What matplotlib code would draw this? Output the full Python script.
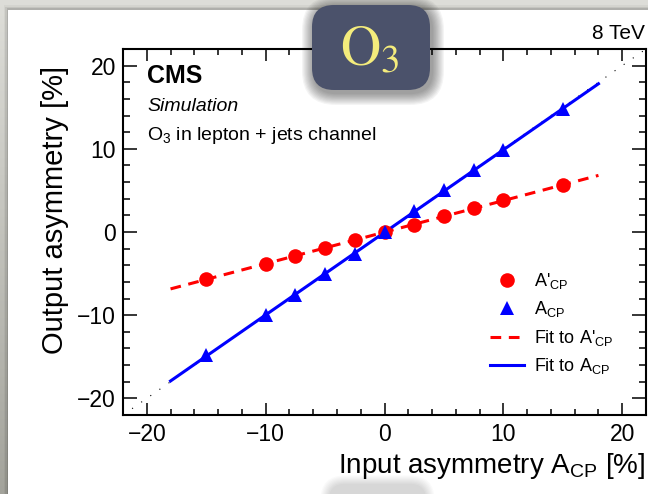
import matplotlib
matplotlib.use("Agg")
import matplotlib.pyplot as plt
import numpy as np
from matplotlib.patches import Rectangle, FancyBboxPatch
from matplotlib.ticker import MultipleLocator

plt.rcParams['font.family'] = ['Liberation Sans', 'DejaVu Sans']
plt.rcParams['mathtext.fontset'] = 'custom'
plt.rcParams['mathtext.rm'] = 'Liberation Sans'
plt.rcParams['mathtext.it'] = 'Liberation Sans:italic'
plt.rcParams['mathtext.bf'] = 'Liberation Sans:bold'

# injected asymmetry points and the reconstructed values
a_input = [-15, -10, -7.5, -5, -2.5, 0, 2.5, 5, 7.5, 10, 15]
a_prime_out = [-5.7, -3.8, -2.9, -1.9, -1.0, 0.0, 0.9, 1.9, 2.9, 3.8, 5.6]
a_cp_out = [-14.8, -10.0, -7.6, -5.1, -2.6, 0.0, 2.5, 5.0, 7.4, 9.9, 14.8]
fit_range = [-18, 18]
axis_range = [-22, 22]
major_ticks = [-20, -10, 0, 10, 20]

W, H = 648, 494
fig = plt.figure(figsize=(W / 100, H / 100), dpi=100)


def fx(x):
    return x / W


def fy(y):
    return 1 - y / H


# grey backdrop with a soft vertical gradient
bg = fig.add_axes([0, 0, 1, 1], zorder=-10)
grad = np.linspace(0, 1, 256).reshape(-1, 1)
c_top = np.array([0.87, 0.87, 0.85])
c_bot = np.array([0.64, 0.64, 0.61])
img = c_top + (c_bot - c_top) * grad[..., None]
bg.imshow(img, aspect='auto', extent=[0, 1, 0, 1], origin='upper')
bg.set_xlim(0, 1)
bg.set_ylim(0, 1)
bg.axis('off')

# white sheet with a faint shadow on its edge
for i, a in enumerate([0.10, 0.07, 0.04]):
    d = (i + 1) * 1.5
    bg.add_patch(Rectangle((fx(8 - d), 0), 1, fy(10 - d), color='black', alpha=a, lw=0))
bg.add_patch(Rectangle((fx(8), 0), 1, fy(10), color='white', lw=0))

# faint grey blob at the bottom edge
for i in range(8):
    g = 0.012 * (8 - i)
    bg.add_patch(FancyBboxPatch((3.30 - g, -0.5), 0.95 + 2 * g, 0.59 + g,
                                boxstyle='round,pad=0,rounding_size=%.3f' % (0.15 + g),
                                transform=fig.dpi_scale_trans, color='black', alpha=0.018,
                                lw=0))

ax = fig.add_axes([fx(123), fy(415), (646 - 123) / W, (415 - 49) / H])

x_fit = np.array(fit_range, dtype=float)
p_prime = np.polyfit(a_input, a_prime_out, 1)
p_cp = np.polyfit(a_input, a_cp_out, 1)

ax.plot(axis_range, axis_range, color='black', lw=0.8, ls=(0, (1, 9)), zorder=1)
ax.plot(x_fit, np.polyval(p_prime, x_fit), color='#ff0000', lw=2.2, ls=(0, (3.5, 2.5)),
        label="Fit to A'$_{\\mathregular{CP}}$", zorder=2)
ax.plot(x_fit, np.polyval(p_cp, x_fit), color='#0000ff', lw=2.2,
        label='Fit to A$_{\\mathregular{CP}}$', zorder=2)
ax.plot(a_input, a_prime_out, 'o', color='#ff0000', ms=10.5, mew=0,
        label="A'$_{\\mathregular{CP}}$", zorder=3)
ax.plot(a_input, a_cp_out, '^', color='#0000ff', ms=10.5, mew=0,
        label='A$_{\\mathregular{CP}}$', zorder=3)

ax.set_xlim(axis_range)
ax.set_ylim(axis_range)
ax.set_xticks(major_ticks)
ax.set_yticks(major_ticks)
ax.xaxis.set_minor_locator(MultipleLocator(2))
ax.yaxis.set_minor_locator(MultipleLocator(2))
ax.tick_params(which='both', direction='in', top=True, right=True, width=1.1,
               labelsize=16.5, color='black')
ax.tick_params(axis='x', which='major', length=8.5, pad=6)
ax.tick_params(axis='x', which='minor', length=4.5)
ax.tick_params(axis='y', which='major', length=10, pad=5)
ax.tick_params(axis='y', which='minor', length=5)
for s in ax.spines.values():
    s.set_linewidth(1.5)

handles, labels = ax.get_legend_handles_labels()
order = [2, 3, 0, 1]
ax.legend([handles[i] for i in order], [labels[i] for i in order],
          loc='upper left', bbox_to_anchor=(fx(490), fy(271)), bbox_transform=fig.transFigure,
          frameon=False, fontsize=13, handlelength=1.9, handletextpad=0.55,
          labelspacing=0.47, borderpad=0, borderaxespad=0)

fig.text(fx(55), fy(210), 'Output asymmetry [%]', rotation=90, ha='center', va='center',
         fontsize=21)
fig.text(fx(645), fy(473), 'Input asymmetry A$_{\\mathregular{CP}}$ [%]', ha='right',
         va='baseline', fontsize=20)

fig.text(fx(147), fy(83), 'CMS', fontsize=18, fontweight='bold', va='baseline')
fig.text(fx(147), fy(111), 'Simulation', fontsize=14, style='italic', va='baseline')
fig.text(fx(147), fy(140), 'O$_{\\mathregular{3}}$ in lepton + jets channel', fontsize=14,
         va='baseline')
fig.text(fx(645), fy(39), '8 TeV', fontsize=15, ha='right', va='baseline')

# dark rounded badge with the observable name, soft drop shadow underneath
bx, by, bw, bh = 3.12, (H - 90) / 100, 1.18, 0.85
for i in range(10):
    g = 0.012 * (10 - i)
    fig.patches.append(FancyBboxPatch((bx - g + 0.02, by - g - 0.03), bw + 2 * g, bh + 2 * g,
                                      boxstyle='round,pad=0,rounding_size=%.3f' % (0.22 + g),
                                      transform=fig.dpi_scale_trans, color='black',
                                      alpha=0.045, lw=0, zorder=5))
fig.patches.append(FancyBboxPatch((bx, by), bw, bh, boxstyle='round,pad=0,rounding_size=0.22',
                                  transform=fig.dpi_scale_trans, facecolor='#4b526b',
                                  edgecolor='none', zorder=6))
fig.text(fx(370), fy(51), r'$\mathrm{O}_{3}$', fontsize=40, color='#f4ec7c',
         ha='center', va='center', math_fontfamily='stix', zorder=7)

fig.savefig('out.png', dpi=100)
